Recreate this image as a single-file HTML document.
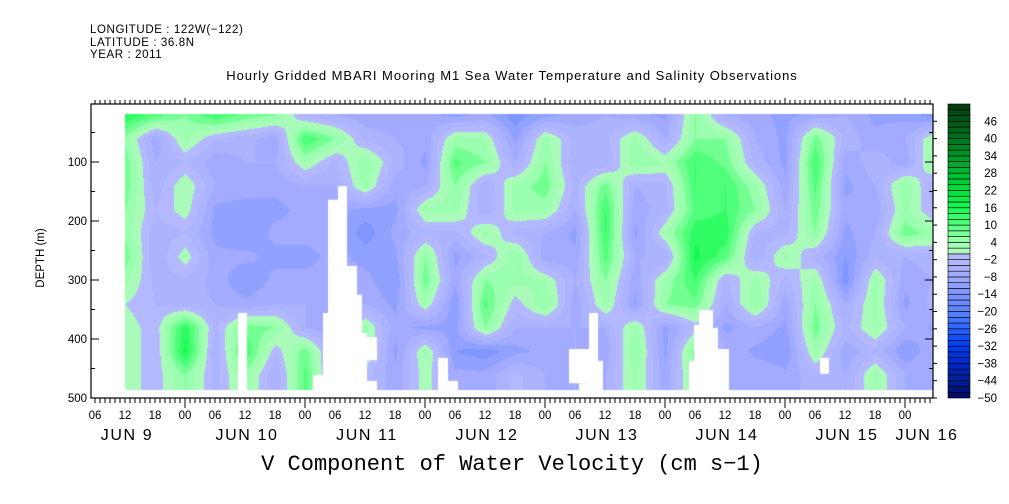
<!DOCTYPE html>
<html><head><meta charset="utf-8"><style>
body{margin:0;background:#fff;}
#wrap{position:relative;width:1009px;height:504px;overflow:hidden;font-family:"Liberation Sans",sans-serif;}
.t{position:absolute;white-space:pre;color:#000;}
</style></head><body>
<div id="wrap">
<div class="t" style="left:90px;top:24px;font-size:11.5px;letter-spacing:0.6px;">LONGITUDE : 122W(−122)</div>
<div class="t" style="left:90px;top:37px;font-size:11.5px;letter-spacing:0.6px;">LATITUDE : 36.8N</div>
<div class="t" style="left:90px;top:49px;font-size:11.5px;letter-spacing:0.6px;">YEAR : 2011</div>
<div class="t" style="left:0;width:1024px;text-align:center;top:68px;font-size:13px;letter-spacing:0.95px;">Hourly Gridded MBARI Mooring M1 Sea Water Temperature and Salinity Observations</div>
<div class="t" style="left:0;width:1024px;text-align:center;top:452px;font-size:22px;font-family:'Liberation Mono',monospace;">V Component of Water Velocity (cm s−1)</div>
<canvas id="cv" width="1009" height="504" style="position:absolute;left:0;top:0"></canvas>
<svg id="sv" width="1009" height="504" style="position:absolute;left:0;top:0"></svg>
</div>
<script>
// time (hours since Jun 9 00:00) of each column, depths (m) of each row
const times=[12,18,24,30,36,42,48,54,60,66,72,78,84,90,96,102,108,114,120,126,132,138,144,150,156,162,168,174];
const depths=[20,60,100,140,180,220,260,300,340,380,420,460];
// velocity (cm/s) per time column, top to bottom in depth
const velocity=[
[15,5,8,8,6,5,8,4,0,2,3,2],
[10,-8,-6,-5,-3,-5,-6,-4,-3,-2,-3,-2],
[6,4,-3,3,2,-3,2,-4,-5,14,16,6],
[12,-3,-8,-6,-10,-10,-8,-7,-6,-4,-6,-4],
[8,-5,-6,-8,-10,-12,-8,-12,-8,8,12,5],
[6,-8,-6,-8,-10,-8,-10,-8,-6,6,-2,-6],
[-4,12,3,-6,-8,-8,-10,-8,-6,-6,8,10],
[-6,6,-4,-6,-8,-8,-8,-8,-8,-8,-8,-8],
[-8,-4,6,4,-10,-14,-10,-8,-6,4,4,-2],
[-8,-6,-4,-8,-10,-8,-10,-12,-10,-8,-10,-8],
[-8,-8,-10,-6,4,-4,6,8,3,-10,4,2],
[-10,4,10,6,4,-4,-10,-8,-12,-10,-12,-8],
[-8,3,6,-6,-6,4,-4,6,10,6,-14,-8],
[-14,-10,-6,4,4,-4,6,4,-2,-6,-10,-2],
[-10,4,6,8,4,-6,-8,3,6,-6,-8,-6],
[-8,-4,-6,-4,-6,-10,-8,-6,-8,-6,-6,-6],
[-6,-4,-6,8,12,12,10,6,4,-6,-8,-6],
[-8,4,6,-6,-8,-10,-6,-8,-10,4,6,4],
[-10,-6,3,-4,-4,3,-6,4,6,-10,-10,-8],
[6,6,12,12,10,14,16,12,8,-2,8,6],
[-6,6,8,12,12,14,10,-4,-6,-10,-6,-6],
[-8,-6,-4,4,6,-4,-6,4,6,-6,-10,-6],
[-10,-10,-10,-8,-6,-4,4,-4,-8,-10,-12,-8],
[-8,8,12,10,8,6,-4,4,6,8,4,-4],
[-6,-4,-8,-10,-8,-10,-12,-14,-6,-4,-8,-6],
[-10,-8,-4,-6,-8,-6,-4,4,4,4,-4,4],
[-10,-6,-8,6,4,8,-6,-8,-10,-6,-12,-6],
[-14,4,6,-6,-4,4,-4,-6,-4,-10,-6,-6]];
// missing-data regions [t0,t1,d0,d1]
const gaps=[[34.6,36.4,356,490],[54.6,56.4,141,490],[52.6,54.6,164,490],[56.4,58.4,276,490],[58.4,59.4,325,490],[59.4,60.4,390,490],[60.4,62.4,397,436],[60.4,62.4,471,490],[51.6,52.6,356,490],[49.6,51.6,461,490],[74.6,76.6,432,490],[76.6,78.6,471,490],[104.8,106.6,356,490],[100.8,104.8,417,475],[102.8,104.8,475,490],[106.6,107.6,437,490],[126.8,129.6,351,490],[125.8,126.8,376,490],[124.8,125.8,437,490],[129.6,130.6,381,490],[130.6,132.8,417,490],[151,152.8,432,459]];
const cbLabels=[46,40,34,28,22,16,10,4,-2,-8,-14,-20,-26,-32,-38,-44,-50];
const depthTicks=[100,200,300,400,500];
const hourLabels=["06","12","18","00"];
const dayLabels=[["JUN  9",12],["JUN 10",36],["JUN 11",60],["JUN 12",84],["JUN 13",108],["JUN 14",132],["JUN 15",156],["JUN 16",172]];

const X=t=>65+5*t, Y=d=>103+0.59*d;
const PL=91,PR=933,PT=104,PB=398;
const stops=[[-50,[0,10,100]],[-44,[0,30,150]],[-38,[0,40,200]],[-32,[0,60,240]],[-26,[40,100,255]],[-20,[90,130,255]],[-14,[125,148,255]],[-8,[160,170,255]],[-2,[180,185,255]],[0,[180,185,255]],[1,[172,250,188]],[4,[160,255,178]],[10,[85,255,125]],[16,[20,250,80]],[22,[0,225,60]],[28,[0,185,50]],[34,[0,150,40]],[40,[0,115,30]],[46,[0,85,20]],[52,[0,60,15]]];
function col(v){
  if(v<=stops[0][0])return stops[0][1];
  for(let i=1;i<stops.length;i++){if(v<=stops[i][0]){const a=stops[i-1],b=stops[i],f=(v-a[0])/(b[0]-a[0]);return a[1].map((c,k)=>Math.round(c+(b[1][k]-c)*f));}}
  return stops[stops.length-1][1];
}
function band(v){return Math.floor(v/3)*3+1.5;}
const cv=document.getElementById('cv'),ctx=cv.getContext('2d');
const img=ctx.createImageData(1009,504);
const nT=times.length,nD=depths.length;
for(let y=PT;y<PB;y++){for(let x=PL;x<PR;x++){
  const t=(x-65)/5,d=(y-103)/0.59;
  if(t<times[0]||d<17||d>486)continue;
  let fi=(t-times[0])/(times[1]-times[0]);fi=Math.max(0,Math.min(nT-1.0001,fi));
  let fj=(d-depths[0])/(depths[1]-depths[0]);fj=Math.max(0,Math.min(nD-1.0001,fj));
  const i=Math.floor(fi),j=Math.floor(fj),a=fi-i,b=fj-j;
  const v=velocity[i][j]*(1-a)*(1-b)+velocity[i+1][j]*a*(1-b)+velocity[i][j+1]*(1-a)*b+velocity[i+1][j+1]*a*b;
  const c=col(band(v));const p=(y*1009+x)*4;
  img.data[p]=c[0];img.data[p+1]=c[1];img.data[p+2]=c[2];img.data[p+3]=255;
}}
ctx.putImageData(img,0,0);
ctx.fillStyle='#fff';
gaps.forEach(g=>{ctx.fillRect(X(g[0]),Y(g[2]),X(g[1])-X(g[0]),Y(g[3])-Y(g[2]));});

const NS='http://www.w3.org/2000/svg',sv=document.getElementById('sv');
function el(tag,attrs,txt){const e=document.createElementNS(NS,tag);for(const k in attrs)e.setAttribute(k,attrs[k]);if(txt!==undefined)e.textContent=txt;sv.appendChild(e);return e;}
let e=el('rect',{x:PL,y:PT,width:PR-PL,height:PB-PT,fill:'none',stroke:'#000','stroke-width':1.2});


for(let t=6;t<=173;t++){
  const x=X(t);if(x<PL||x>PR)continue;
  const major=(t%24===0);
  el('line',{x1:x,y1:PT,x2:x,y2:PT-(major?6:4),stroke:'#000','stroke-width':1});
  el('line',{x1:x,y1:PB,x2:x,y2:PB+(major?10:5),stroke:'#000','stroke-width':1});
}
for(let t=6;t<=173;t+=6){
  e=el('text',{x:X(t),y:419,'font-size':11.5,'text-anchor':'middle','font-family':'Liberation Sans, sans-serif'},hourLabels[(t/6-1)%4]);
  
  
}
dayLabels.forEach(dl=>{
  e=el('text',{x:X(dl[1])+2,y:440,'font-size':16,'letter-spacing':1.6,'text-anchor':'middle','font-family':'Liberation Sans, sans-serif'},dl[0]);
  
  
});
for(let d=50;d<=500;d+=50){
  const y=Y(d),L=(d%100===0)?8:4;
  el('line',{x1:PL,y1:y,x2:PL+L,y2:y,stroke:'#000'});
  el('line',{x1:PR,y1:y,x2:PR-L,y2:y,stroke:'#000'});
}
depthTicks.forEach(d=>{
  e=el('text',{x:87,y:Y(d)+4,'font-size':11.5,'text-anchor':'end','font-family':'Liberation Sans, sans-serif'},String(d));
  
  
});
e=el('text',{x:0,y:0,'font-size':11.5,'text-anchor':'middle','font-family':'Liberation Sans, sans-serif',transform:'translate(44,258) rotate(-90)'},'DEPTH (m)');


const cbL=948,cbW=22,cbV0=-50,cbV1=52;
const CY=v=>398-(v-cbV0)*(294/(cbV1-cbV0));
for(let v=cbV0;v<cbV1;v+=2){
  const c=col(v+1);
  e=el('rect',{x:cbL,y:CY(v+2),width:cbW,height:CY(v)-CY(v+2),fill:`rgb(${c[0]},${c[1]},${c[2]})`,stroke:'#000','stroke-width':0.6});
  
  
}
cbLabels.forEach(v=>{
  el('line',{x1:PR,y1:CY(v),x2:PR+4,y2:CY(v),stroke:'#000'});
  e=el('text',{x:997,y:CY(v)+4,'font-size':11.5,'text-anchor':'end','font-family':'Liberation Sans, sans-serif'},String(v).replace('-','−'));
  
  
});
</script>
</body></html>
